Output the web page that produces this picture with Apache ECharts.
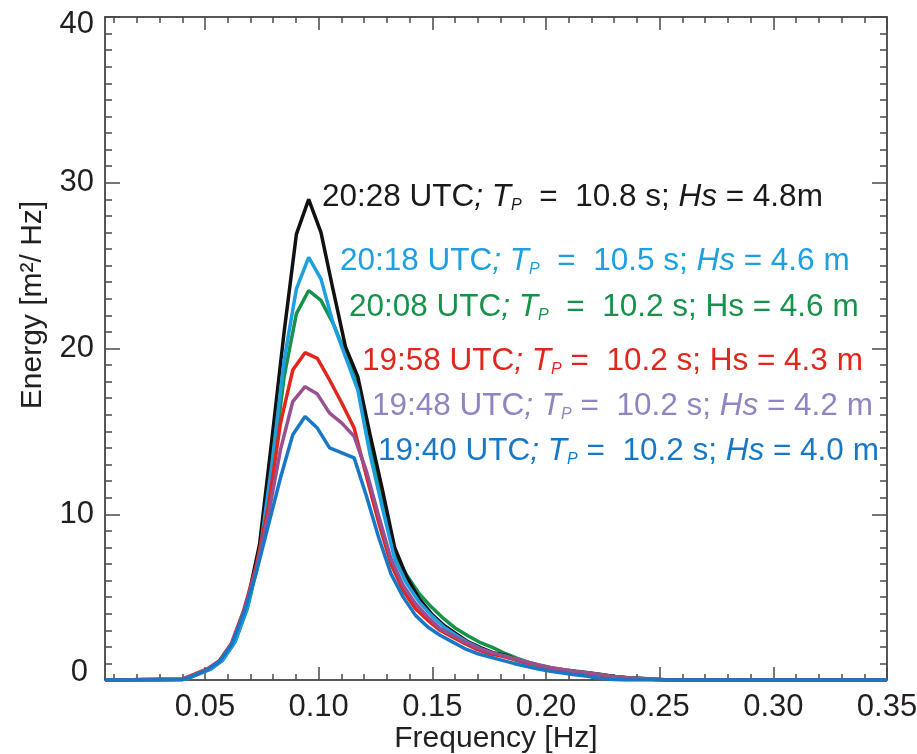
<!DOCTYPE html>
<html><head><meta charset="utf-8">
<script src="https://cdn.jsdelivr.net/npm/echarts@6/dist/echarts.min.js"></script>
<style>html,body{margin:0;padding:0;background:#fff}#c{width:917px;height:754px}</style>
</head><body><div id="c"></div>
<script>
// Frequency bins [Hz] (early spectra 19:40-19:58 and later spectra 20:08-20:28)
const freqEarly = [0.006, 0.0400, 0.0454, 0.0508, 0.0562, 0.0616, 0.0670, 0.0724, 0.0778, 0.0832, 0.0886, 0.0940, 0.0994, 0.1048, 0.1102, 0.1156, 0.1210, 0.1264, 0.1318, 0.1372, 0.1426, 0.1480, 0.1534, 0.1588, 0.1642, 0.1696, 0.1750, 0.1804, 0.1858, 0.1912, 0.1966, 0.2020, 0.2074, 0.2128, 0.2182, 0.2236, 0.2290, 0.2344, 0.2398, 0.2452, 0.2506, 0.2560, 0.35];
const freqLate = [0.006, 0.0416, 0.0470, 0.0524, 0.0578, 0.0632, 0.0686, 0.0740, 0.0794, 0.0848, 0.0902, 0.0956, 0.1010, 0.1064, 0.1118, 0.1172, 0.1226, 0.1280, 0.1334, 0.1388, 0.1442, 0.1496, 0.1550, 0.1604, 0.1658, 0.1712, 0.1766, 0.1820, 0.1874, 0.1928, 0.1982, 0.2036, 0.2090, 0.2144, 0.2198, 0.2252, 0.2306, 0.2360, 0.2414, 0.2468, 0.2522, 0.2576, 0.35];

// Energy [m^2/Hz]
const e1940 = [0, 0.0,0.3,0.6,1.1,2.1,4.0,6.4,9.3,12.2,14.8,15.9,15.2,14.0,13.7,13.4,11.1,8.6,6.4,5.0,3.9,3.2,2.7,2.3,1.9,1.6,1.4,1.2,1.0,0.82,0.66,0.52,0.42,0.32,0.22,0.1,0.03,0,0,0,0,0, 0];
const e1948 = [0, 0.05,0.3,0.6,1.1,2.15,4.1,6.6,9.9,13.9,16.8,17.7,17.25,16.1,15.5,14.7,12.6,9.9,7.3,5.7,4.6,3.8,3.1,2.7,2.3,1.95,1.7,1.5,1.3,1.1,0.92,0.75,0.63,0.52,0.44,0.34,0.22,0.15,0.1,0.06,0.02,0, 0];
const e1958 = [0, 0.05,0.35,0.65,1.15,2.2,4.2,6.8,10.4,15.5,18.7,19.75,19.4,18.1,16.7,15.2,12.3,9.5,7.0,5.4,4.3,3.6,3.0,2.6,2.2,1.85,1.6,1.45,1.25,1.05,0.88,0.72,0.6,0.5,0.42,0.32,0.2,0.14,0.09,0.05,0.02,0, 0];
const e2008 = [0, 0.05,0.35,0.65,1.2,2.3,4.3,7.4,12.4,18.3,22.1,23.5,22.9,21.5,19.7,17.7,14.0,10.8,7.6,6.3,5.2,4.4,3.7,3.1,2.65,2.25,1.95,1.6,1.3,1.05,0.85,0.7,0.6,0.52,0.43,0.32,0.2,0.14,0.1,0.06,0.02,0, 0];
const e2018 = [0, 0.05,0.35,0.65,1.2,2.3,4.4,7.6,13.0,19.3,23.6,25.5,24.2,21.5,19.5,17.5,13.6,10.4,7.3,5.8,4.7,3.9,3.2,2.7,2.25,1.9,1.6,1.45,1.15,0.93,0.77,0.63,0.54,0.46,0.38,0.28,0.18,0.12,0.08,0.05,0.02,0, 0];
const e2028 = [0, 0.05,0.4,0.7,1.3,2.5,4.7,8.2,14.5,21.0,26.9,29.0,27.0,23.5,20.1,18.3,14.8,11.5,8.0,6.2,4.9,4.0,3.3,2.8,2.3,1.95,1.65,1.5,1.2,0.97,0.8,0.66,0.56,0.48,0.4,0.3,0.19,0.13,0.09,0.05,0.02,0, 0];

// Tick values
const xMajorTicks = [0.05, 0.10, 0.15, 0.20, 0.25, 0.30, 0.35];
const xMinorTicks = [0.01,0.02,0.03,0.04,0.06,0.07,0.08,0.09,0.11,0.12,0.13,0.14,0.16,0.17,0.18,0.19,0.21,0.22,0.23,0.24,0.26,0.27,0.28,0.29,0.31,0.32,0.33,0.34];

// Annotation texts
const labels = [
  {t:'20:28 UTC', tp:'  =  10.8 s; ', hs:'Hs', rest:' = 4.8m', hsItalic:true},
  {t:'20:18 UTC', tp:'  =  10.5 s; ', hs:'Hs', rest:' = 4.6 m', hsItalic:true},
  {t:'20:08 UTC', tp:'  =  10.2 s; ', hs:'Hs', rest:' = 4.6 m', hsItalic:false},
  {t:'19:58 UTC', tp:' =  10.2 s; ', hs:'Hs', rest:' = 4.3 m', hsItalic:false},
  {t:'19:48 UTC', tp:' =  10.2 s; ', hs:'Hs', rest:' = 4.2 m', hsItalic:true},
  {t:'19:40 UTC', tp:' =  10.2 s; ', hs:'Hs', rest:' = 4.0 m', hsItalic:true}
];
const labelColors = ['#1a1a1a', '#1d9fe0', '#17924a', '#e1261d', '#9184c0', '#1878c6'];
const labelPos = [[322,197],[340,261],[349,307],[362,361],[372,406],[378,451]];

const FF = '"Liberation Sans", Arial, Helvetica, sans-serif';
const TXT = '#231f20';

function pairs(f, e){ return f.map((v,i)=>[v, e[i]]); }

function richFor(c){
  return {
    n:{fontSize:31.5, fontFamily:FF, fill:c, fontStyle:'normal', lineHeight:34},
    i:{fontSize:31.5, fontFamily:FF, fill:c, fontStyle:'italic', lineHeight:34},
    s:{fontSize:16, fontFamily:FF, fill:c, fontStyle:'italic', lineHeight:12, verticalAlign:'bottom'}
  };
}

const graphics = labels.map((L, k) => ({
  type:'text', x: labelPos[k][0], y: labelPos[k][1], z: 10,
  style:{
    text: '{n|'+L.t+'}{i|; T}{s|P}{n|'+L.tp+'}' + (L.hsItalic ? '{i|'+L.hs+'}' : '{n|'+L.hs+'}') + '{n|'+L.rest+'}',
    rich: richFor(labelColors[k]), fill: labelColors[k], align:'left', verticalAlign:'middle',
    fontSize:31.5, fontFamily:FF
  }
}));
graphics.push({
  type:'text', x: 33, y: 305, rotation: Math.PI/2, z: 10,
  style:{text:'Energy [m²/ Hz]', fontSize:30, fontFamily:FF, fill:TXT, align:'center', verticalAlign:'middle'}
});

const axisLineStyle = {color:'#231f20', width:1.5};
const tickStyle = {color:'#4a4a4a', width:1.5};

const chart = echarts.init(document.getElementById('c'));
chart.setOption({
  animation:false,
  backgroundColor:'#fff',
  grid:{left:105, right:30, top:17, bottom:74, containLabel:false, outerBoundsMode:'none'},
  xAxis:[
    {type:'value', position:'bottom', min:0.006, max:0.35,
     axisLine:{show:true, onZero:false, lineStyle:axisLineStyle},
     axisTick:{show:true, inside:true, length:13, lineStyle:tickStyle, customValues:xMajorTicks},
     axisLabel:{show:true, customValues:xMajorTicks, formatter:v=>v.toFixed(2), fontSize:31, fontFamily:FF, color:TXT, margin:12},
     splitLine:{show:false},
     name:'Frequency [Hz]', nameLocation:'middle', nameGap:44, nameMoveOverlap:false,
     nameTextStyle:{fontSize:30, fontFamily:FF, color:TXT}},
    {type:'value', position:'bottom', min:0.006, max:0.35,
     axisLine:{show:false, onZero:false},
     axisTick:{show:true, inside:true, length:6, lineStyle:tickStyle, customValues:xMinorTicks},
     axisLabel:{show:false}, splitLine:{show:false}},
    {type:'value', position:'top', min:0.006, max:0.35,
     axisLine:{show:true, onZero:false, lineStyle:axisLineStyle},
     axisTick:{show:true, inside:true, length:13, lineStyle:tickStyle, customValues:xMajorTicks},
     axisLabel:{show:false}, splitLine:{show:false}},
    {type:'value', position:'top', min:0.006, max:0.35,
     axisLine:{show:false, onZero:false},
     axisTick:{show:true, inside:true, length:6, lineStyle:tickStyle, customValues:xMinorTicks},
     axisLabel:{show:false}, splitLine:{show:false}}
  ],
  yAxis:[
    {type:'value', position:'left', min:0, max:40, interval:10,
     axisLine:{show:true, onZero:false, lineStyle:axisLineStyle},
     axisTick:{show:true, inside:true, length:15, lineStyle:tickStyle},
     minorTick:{show:true, splitNumber:10, length:7, lineStyle:tickStyle},
     axisLabel:{show:true, fontSize:31, fontFamily:FF, color:TXT, margin:11,
       formatter:v => v===0 ? '{b|0}' : (v===40 ? '{t|40}' : String(v)),
       rich:{b:{fontSize:31, fontFamily:FF, color:TXT, padding:[0,6,16,0]},
             t:{fontSize:31, fontFamily:FF, color:TXT, padding:[14,0,0,0]}}},
     splitLine:{show:false}, minorSplitLine:{show:false}},
    {type:'value', position:'right', min:0, max:40, interval:10,
     axisLine:{show:true, onZero:false, lineStyle:axisLineStyle},
     axisTick:{show:true, inside:true, length:15, lineStyle:tickStyle},
     minorTick:{show:true, splitNumber:10, length:7, lineStyle:tickStyle},
     axisLabel:{show:false}, splitLine:{show:false}, minorSplitLine:{show:false}}
  ],
  graphic: graphics,
  series:[
    {name:'20:08 UTC', type:'line', data:pairs(freqLate, e2008), showSymbol:false, symbol:'none', lineStyle:{color:'#17924a', width:3.5}, itemStyle:{color:'#17924a'}},
    {name:'20:28 UTC', type:'line', data:pairs(freqLate, e2028), showSymbol:false, symbol:'none', lineStyle:{color:'#111111', width:3.5}, itemStyle:{color:'#111111'}},
    {name:'20:18 UTC', type:'line', data:pairs(freqLate, e2018), showSymbol:false, symbol:'none', lineStyle:{color:'#1d9fe0', width:3.5}, itemStyle:{color:'#1d9fe0'}},
    {name:'19:58 UTC', type:'line', data:pairs(freqEarly, e1958), showSymbol:false, symbol:'none', lineStyle:{color:'#e1261d', width:3.5}, itemStyle:{color:'#e1261d'}},
    {name:'19:48 UTC', type:'line', data:pairs(freqEarly, e1948), showSymbol:false, symbol:'none', lineStyle:{color:'#98508e', width:3.5}, itemStyle:{color:'#98508e'}},
    {name:'19:40 UTC', type:'line', data:pairs(freqEarly, e1940), showSymbol:false, symbol:'none', lineStyle:{color:'#1878c6', width:3.5}, itemStyle:{color:'#1878c6'}}
  ]
});
</script></body></html>
